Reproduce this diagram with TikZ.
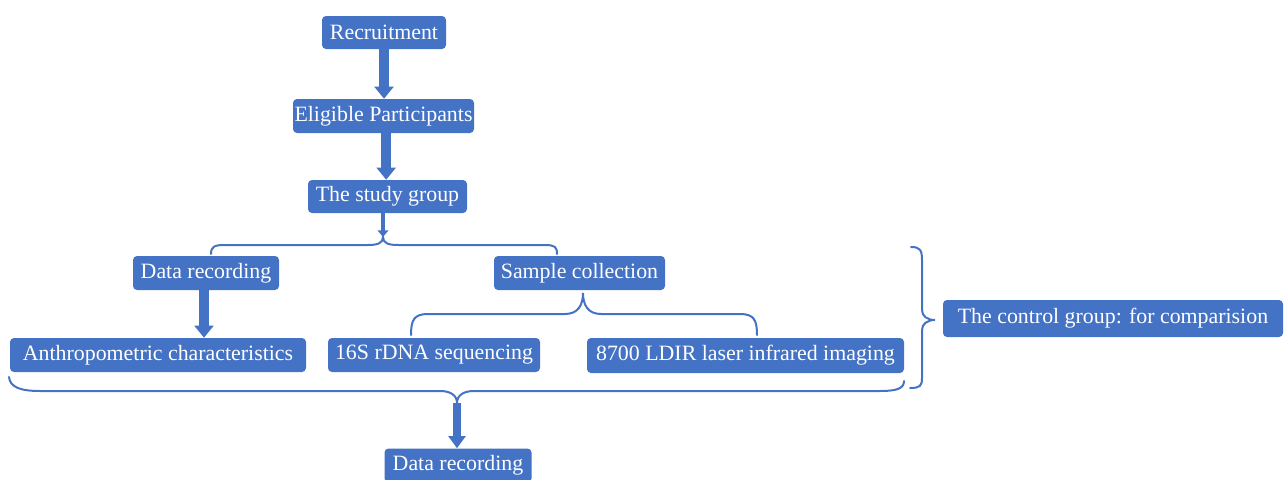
\documentclass[tikz,border=0pt]{standalone}
\usepackage{fontspec}
\setmainfont{Liberation Serif}
\usetikzlibrary{arrows.meta}
\definecolor{boxblue}{HTML}{4472C4}
\begin{document}
\begin{tikzpicture}[x=0.75pt,y=-0.75pt,
  box/.style={fill=boxblue,text=white,rounded corners=3pt,inner sep=0pt,
    font=\fontsize{16.4}{19}\selectfont,anchor=center},
  fat/.style={draw=boxblue,line width=7.5pt,-{Triangle[width=14pt,length=9pt]}},
  thin/.style={draw=boxblue,line width=3.5pt,-{Triangle[width=8pt,length=5pt]}},
  brace/.style={draw=boxblue,line width=1.5pt,line cap=round}]
\useasboundingbox (0,0) rectangle (1285,479);

\node[box,minimum width=93pt,minimum height=24.75pt] (rec) at (384,32.5) {Recruitment};
\node[box,minimum width=135.75pt,minimum height=25.5pt] (elig) at (383.5,116) {Eligible Participants};
\node[box,minimum width=119.25pt,minimum height=24.75pt] (study) at (387.5,196.5) {The study group};
\node[box,minimum width=109.5pt,minimum height=25.5pt] (dr1) at (206,273) {Data recording};
\node[box,minimum width=128.25pt,minimum height=25.5pt] (sc) at (579.5,273) {Sample collection};
\node[box,minimum width=222pt,minimum height=25.5pt] (anth) at (158,355) {Anthropometric characteristics};
\node[box,minimum width=159pt,minimum height=25.5pt] (seq) at (434,355) {16S rDNA sequencing};
\node[box,minimum width=237.75pt,minimum height=26.25pt] (ldir) at (745.5,355.5) {8700 LDIR laser infrared imaging};
\node[box,minimum width=110.25pt,minimum height=25.5pt] (dr2) at (458,465.5) {Data recording};
\node[box,minimum width=255pt,minimum height=27.75pt] (ctrl) at (1113,318.5) {The control group: for comparision};

\coordinate (c1) at (383,237);
\coordinate (c2) at (583,293);
\coordinate (c3) at (457,403);
\coordinate (c4) at (935,320);

\draw[fat] (rec.south) -- (rec.south |- elig.north);
\draw[fat] ([xshift=2pt]elig.south) -- ([xshift=2pt]elig.south |- study.north);
\draw[thin] (study.south -| c1) -- (c1);
\draw[fat] ([xshift=-1.5pt]dr1.south) -- ([xshift=-1.5pt]dr1.south |- anth.north);
\draw[fat,line width=6pt,-{Triangle[width=12.5pt,length=9pt]}] (c3) -- (c3 |- dr2.north);

% brace under study group
\draw[brace] (211,254) .. controls (211,247) and (214,245) .. (224,245) -- (368,245)
  .. controls (378,245) and (383,243) .. (c1) .. controls (383,243) and (388,245) .. (398,245)
  -- (545,245) .. controls (555,245) and (557,247) .. (557,254);
% brace under sample collection
\draw[brace] (411,335) .. controls (411,320) and (414,314) .. (428,314) -- (565,314)
  .. controls (578,314) and (583,305) .. (c2) .. controls (583,305) and (588,314) .. (601,314)
  -- (740,314) .. controls (754,314) and (757,320) .. (757,335);
% bottom brace
\draw[brace] (9,377) .. controls (10,387) and (20,391) .. (40,391) -- (440,391)
  .. controls (450,391) and (457,395) .. (c3) .. controls (457,395) and (464,391) .. (474,391)
  -- (880,391) .. controls (898,391) and (904,388) .. (904,381);
% right brace
\draw[brace] (911,247) .. controls (920,247) and (922,250) .. (922,260) -- (922,310)
  .. controls (922,316) and (927,320) .. (c4) .. controls (927,320) and (922,324) .. (922,330)
  -- (922,378) .. controls (922,386) and (920,388) .. (910,388);
\end{tikzpicture}
\end{document}
